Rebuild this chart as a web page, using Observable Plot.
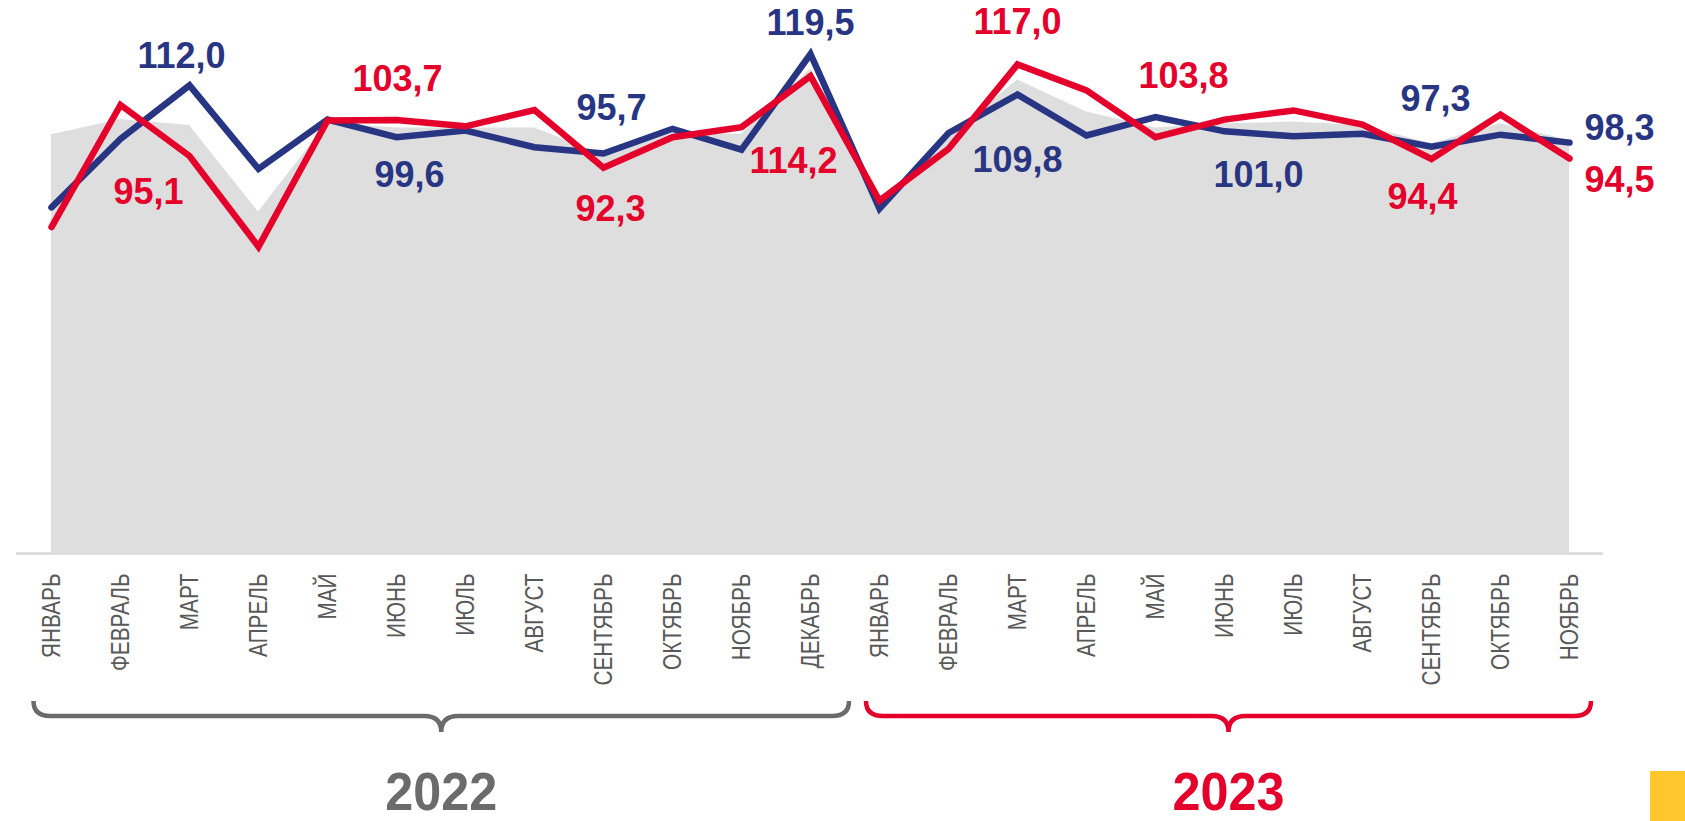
<!DOCTYPE html>
<html><head><meta charset="utf-8">
<script src="https://cdn.jsdelivr.net/npm/d3@7"></script>
<script src="https://cdn.jsdelivr.net/npm/@observablehq/plot@0.6"></script>
<style>
html,body{margin:0;padding:0;background:#fff;}
#chart{width:1685px;height:821px;position:relative;overflow:hidden;}
</style></head><body><div id="chart"></div>
<script>
// ---- data ----
const monthNames = ["ЯНВАРЬ","ФЕВРАЛЬ","МАРТ","АПРЕЛЬ","МАЙ","ИЮНЬ","ИЮЛЬ","АВГУСТ","СЕНТЯБРЬ","ОКТЯБРЬ","НОЯБРЬ","ДЕКАБРЬ"];
const years = ["2022", "2023"];
const monthsPerYear = [12, 11];
const seriesBlue = [82.8, 99.2, 112.0, 92.0, 103.8, 99.6, 101.2, 97.2, 95.7, 101.6, 96.6, 119.5,
                    82.5, 100.6, 109.8, 100.0, 104.4, 101.0, 99.8, 100.4, 97.3, 100.2, 98.3];
const seriesRed  = [78.1, 107.3, 95.1, 73.4, 103.6, 103.7, 102.2, 106.1, 92.3, 99.6, 102.0, 114.2,
                    84.4, 96.8, 117.0, 110.8, 99.6, 103.8, 106.0, 102.6, 94.4, 105.0, 94.5];
const seriesArea = [100.2, 103.8, 102.4, 81.7, 103.0, 101.8, 101.8, 101.8, 95.5, 100.5, 100.3, 115.9,
                    83.0, 99.5, 113.3, 105.6, 101.8, 102.8, 103.2, 102.4, 98.0, 102.8, 98.8];
const labelledBlue = [2, 5, 8, 11, 14, 17, 20, 22];
const labelledRed  = [2, 5, 8, 11, 14, 17, 20, 22];

// ---- layout / style ----
const blueOffsets = [[-8,-29],[13,38],[8,-45],[0,-31],[0,66],[34,44],[4,-47],[50,-14]];
const redOffsets  = [[-41,36],[1,-41],[7,42],[-17,85],[0,-42],[-41,-43],[-9,39],[50,22]];
const BLUE = "#283583", RED = "#E4002B", AREA = "#DEDEDE", DARKGRAY = "#6B6B6B";

const tickLabels = [];
years.forEach((y, k) => { for (let m = 0; m < monthsPerYear[k]; m++) tickLabels.push(monthNames[m]); });
const idx = d3.range(tickLabels.length);
const fmt = v => v.toFixed(1).replace(".", ",");

const labelMarks = [];
labelledBlue.forEach((i, k) => labelMarks.push(Plot.text([i], {
  x: d => d, y: d => seriesBlue[d], text: d => fmt(seriesBlue[d]),
  fill: BLUE, fontSize: 36, fontWeight: "bold", dx: blueOffsets[k][0], dy: blueOffsets[k][1]
})));
labelledRed.forEach((i, k) => labelMarks.push(Plot.text([i], {
  x: d => d, y: d => seriesRed[d], text: d => fmt(seriesRed[d]),
  fill: RED, fontSize: 36, fontWeight: "bold", dx: redOffsets[k][0], dy: redOffsets[k][1]
})));

const chart = Plot.plot({
  width: 1685, height: 821,
  marginLeft: 47.5, marginRight: 113, marginTop: 51.4, marginBottom: 268,
  style: {fontFamily: "'Liberation Sans', Arial, sans-serif", color: "#595959", background: "transparent", overflow: "visible"},
  x: {type: "point", domain: idx, padding: 0, axis: null},
  y: {domain: [0, 120], axis: null},
  marks: [
    Plot.areaY(idx, {x: d => d, y: d => seriesArea[d], fill: AREA}),
    Plot.lineY(idx, {x: d => d, y: d => seriesBlue[d], stroke: BLUE, strokeWidth: 6.5, strokeLinecap: "round", strokeLinejoin: "miter", strokeMiterlimit: 3}),
    Plot.lineY(idx, {x: d => d, y: d => seriesRed[d], stroke: RED, strokeWidth: 6.5, strokeLinecap: "round", strokeLinejoin: "miter", strokeMiterlimit: 3}),
    Plot.axisX(idx, {tickFormat: d => tickLabels[d], tickRotate: -90, tickSize: 0, tickPadding: 20, fontSize: 25, fill: "#595959", label: null}),
    ...labelMarks
  ]
});
document.getElementById("chart").appendChild(chart);

// ---- decorations using the plot's scales ----
const xs = chart.scale("x"), ys = chart.scale("y");
const svg = d3.select(chart);
const y0 = ys.apply(0);

// condense month labels along their reading direction
svg.selectAll('[aria-label="x-axis tick label"] text').each(function () {
  const t = this.getAttribute("transform") || "";
  this.setAttribute("transform", (t + " scale(0.83,1)").trim());
});

svg.insert("line", "g")
  .attr("x1", xs.apply(0) - 35).attr("x2", xs.apply(idx.length - 1) + 34)
  .attr("y1", y0 + 0.5).attr("y2", y0 + 0.5)
  .attr("stroke", "#D9D9D9").attr("stroke-width", 2.5);

function brace(x1, x2, color) {
  const xm = (x1 + x2) / 2;
  const ya = y0 + 148, yb = y0 + 163, yc = y0 + 179, r = 17;
  const d = `M${x1},${ya} Q${x1},${yb} ${x1 + r},${yb} L${xm - r},${yb} Q${xm},${yb} ${xm},${yc} Q${xm},${yb} ${xm + r},${yb} L${x2 - r},${yb} Q${x2},${yb} ${x2},${ya}`;
  svg.append("path").attr("d", d).attr("fill", "none").attr("stroke", color).attr("stroke-width", 4.5);
  return xm;
}
const groups = [
  {x1: xs.apply(0) - 17.5, x2: xs.apply(11) + 39, color: DARKGRAY},
  {x1: xs.apply(12) - 13, x2: xs.apply(22) + 22, color: RED}
];
groups.forEach((g, k) => {
  const xm = brace(g.x1, g.x2, g.color);
  svg.append("text")
    .attr("transform", `translate(${xm},${y0 + 256.5}) scale(0.95,1)`)
    .attr("text-anchor", "middle")
    .attr("font-family", "'Liberation Sans', Arial, sans-serif")
    .attr("font-weight", "bold").attr("font-size", 53)
    .attr("fill", g.color).text(years[k]);
});
svg.append("rect").attr("x", 1650).attr("y", 771).attr("width", 35).attr("height", 50).attr("fill", "#FFC72C");
</script>
</body></html>
